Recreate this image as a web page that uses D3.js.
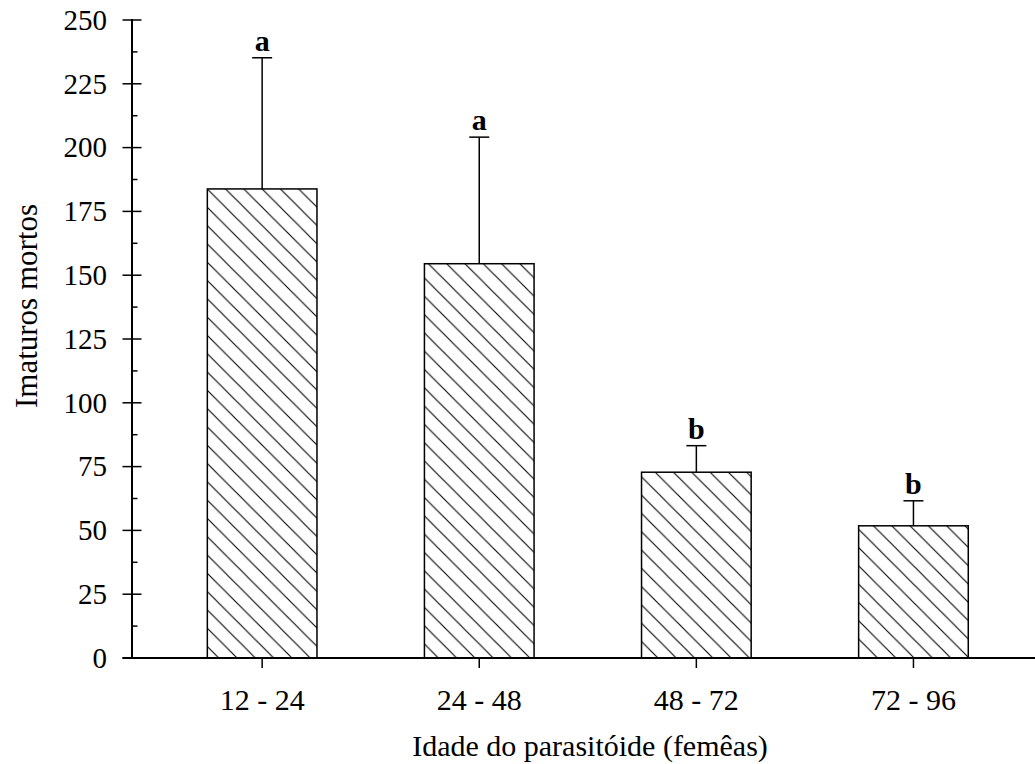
<!DOCTYPE html>
<html>
<head>
<meta charset="utf-8">
<script src="https://cdn.jsdelivr.net/npm/d3@7"></script>
<style>
  html, body { margin: 0; padding: 0; background: #fff; }
  svg { display: block; }
  text { font-family: "Liberation Serif", "Times New Roman", serif; fill: #000; }
</style>
</head>
<body>
<svg id="chart" width="1035" height="764"></svg>
<script>
// ---- data ----
const categories = ["12 - 24", "24 - 48", "48 - 72", "72 - 96"];
const means = [183.8, 154.5, 72.8, 51.8];
const errorTops = [235.2, 204.1, 83.2, 61.6];
const letters = ["a", "a", "b", "b"];
const yTicks = [0, 25, 50, 75, 100, 125, 150, 175, 200, 225, 250];
const yMinorTicks = [12.5, 37.5, 62.5, 87.5, 112.5, 137.5, 162.5, 187.5, 212.5, 237.5];
const xTitle = "Idade do parasitóide (femêas)";
const yTitle = "Imaturos mortos";

const svg = d3.select("#chart");

const axisX = 132;
const y = d3.scaleLinear().domain([0, 250]).range([658, 20]);
const x = d3.scaleBand().domain(categories).range([153.6, 1022])
  .paddingInner(0.495).paddingOuter(0.2475);

// hatch pattern
const defs = svg.append("defs");
const s = 18.3;
const pat = defs.append("pattern")
  .attr("id", "hatch")
  .attr("patternUnits", "userSpaceOnUse")
  .attr("width", s).attr("height", s);
pat.append("path")
  .attr("d", `M0,0 L${s},${s} M${-s/2},${s/2} L${s/2},${s*1.5} M${s/2},${-s/2} L${s*1.5},${s/2}`)
  .attr("stroke", "#000").attr("stroke-width", 1.1).attr("fill", "none");

// bars
svg.append("g").selectAll("rect")
  .data(categories)
  .join("rect")
  .attr("x", d => x(d))
  .attr("y", (d, i) => y(means[i]))
  .attr("width", x.bandwidth())
  .attr("height", (d, i) => y(0) - y(means[i]))
  .attr("fill", "url(#hatch)")
  .attr("stroke", "#000")
  .attr("stroke-width", 1.5);

// error bars
const eb = svg.append("g");
categories.forEach((c, i) => {
  const cx = x(c) + x.bandwidth() / 2;
  eb.append("line")
    .attr("x1", cx).attr("x2", cx)
    .attr("y1", y(means[i])).attr("y2", y(errorTops[i]))
    .attr("stroke", "#000").attr("stroke-width", 1.5);
  eb.append("line")
    .attr("x1", cx - 10).attr("x2", cx + 10)
    .attr("y1", y(errorTops[i])).attr("y2", y(errorTops[i]))
    .attr("stroke", "#000").attr("stroke-width", 1.5);
  eb.append("text")
    .attr("x", cx).attr("y", y(errorTops[i]) - 7)
    .attr("text-anchor", "middle")
    .attr("font-size", 30)
    .attr("font-weight", "bold")
    .text(letters[i]);
});

// y axis
const yAxisG = svg.append("g").attr("transform", `translate(${axisX},0)`);
yAxisG.append("line")
  .attr("x1", 0).attr("x2", 0).attr("y1", y(250) - 1).attr("y2", y(0) + 1)
  .attr("stroke", "#000").attr("stroke-width", 2);
yAxisG.selectAll("line.major").data(yTicks).join("line")
  .attr("class", "major")
  .attr("x1", -9.5).attr("x2", 9.5)
  .attr("y1", d => y(d)).attr("y2", d => y(d))
  .attr("stroke", "#000").attr("stroke-width", 1.5);
yAxisG.selectAll("line.minor").data(yMinorTicks).join("line")
  .attr("class", "minor")
  .attr("x1", 0).attr("x2", 5.5)
  .attr("y1", d => y(d)).attr("y2", d => y(d))
  .attr("stroke", "#000").attr("stroke-width", 1.5);
yAxisG.selectAll("text").data(yTicks).join("text")
  .attr("x", -25).attr("y", d => y(d))
  .attr("dy", "0.34em")
  .attr("text-anchor", "end")
  .attr("font-size", 29)
  .text(d => d);

// x axis
const xAxisG = svg.append("g");
xAxisG.append("line")
  .attr("x1", axisX - 9.5).attr("x2", 1035)
  .attr("y1", y(0)).attr("y2", y(0))
  .attr("stroke", "#000").attr("stroke-width", 2);
xAxisG.selectAll("line.tick").data(categories).join("line")
  .attr("class", "tick")
  .attr("x1", d => x(d) + x.bandwidth() / 2).attr("x2", d => x(d) + x.bandwidth() / 2)
  .attr("y1", y(0)).attr("y2", y(0) + 10)
  .attr("stroke", "#000").attr("stroke-width", 1.5);
xAxisG.selectAll("text").data(categories).join("text")
  .attr("x", d => x(d) + x.bandwidth() / 2)
  .attr("y", 710)
  .attr("text-anchor", "middle")
  .attr("font-size", 30)
  .text(d => d);

// titles
svg.append("text")
  .attr("x", 590).attr("y", 756)
  .attr("text-anchor", "middle")
  .attr("font-size", 30)
  .text(xTitle);

svg.append("text")
  .attr("transform", "translate(37,306) rotate(-90)")
  .attr("text-anchor", "middle")
  .attr("font-size", 31)
  .text(yTitle);
</script>
</body>
</html>
